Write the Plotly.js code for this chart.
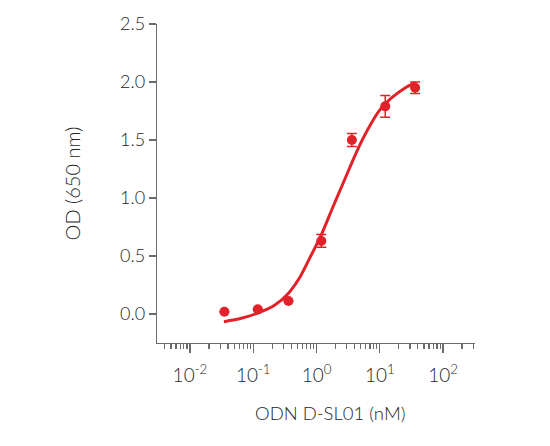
<!DOCTYPE html>
<html>
<head>
<meta charset="utf-8">
<script src="https://cdn.plot.ly/plotly-3.0.1.min.js"></script>
<style>
  html, body { margin: 0; padding: 0; background: white; }
  #chart { width: 550px; height: 446px; }
</style>
</head>
<body>
<div id="chart"></div>
<script>
// Measured points (concentration in nM, OD at 650 nm, error)
const concentrations = [0.035, 0.118, 0.36, 1.19, 3.62, 12.2, 36.2];
const odValues = [0.02, 0.04, 0.112, 0.63, 1.50, 1.79, 1.95];
const odErrors = [0, 0, 0, 0.055, 0.056, 0.093, 0.05];

// Fitted curve
const curveX = [0.0344, 0.0646, 0.118, 0.217, 0.355, 0.537, 0.794, 1.186, 1.811, 2.767, 4.236, 6.457, 9.886, 15.14, 26.12, 36.31];
const curveY = [-0.066, -0.037, 0.008, 0.075, 0.175, 0.31, 0.49, 0.68, 0.92, 1.155, 1.39, 1.59, 1.755, 1.86, 1.955, 1.995];

// Tick labels
const xTickVals = [0.01, 0.1, 1, 10, 100];
const xTickText = ['10<sup>-2</sup>', '10<sup>-1</sup>', '10<sup>0</sup>', '10<sup>1</sup>', '10<sup>2</sup>'];

const red = '#e2222a';
const axisColor = '#6b6b6b';
const textColor = '#262626';
const family = 'Lato, "Open Sans", sans-serif';

const fitTrace = {
    x: curveX,
    y: curveY,
    mode: 'lines',
    type: 'scatter',
    line: { color: red, width: 3, shape: 'spline', smoothing: 0.8 },
    hoverinfo: 'skip'
};

const pointTrace = {
    x: concentrations,
    y: odValues,
    mode: 'markers',
    type: 'scatter',
    marker: { color: red, size: 10 },
    error_y: {
        type: 'data',
        array: odErrors,
        visible: true,
        color: red,
        thickness: 1.5,
        width: 5
    }
};

const layout = {
    width: 550,
    height: 446,
    showlegend: false,
    margin: { l: 157, r: 75, t: 24, b: 103 },
    plot_bgcolor: 'white',
    paper_bgcolor: 'white',
    font: { family: family, size: 17, color: textColor, weight: 300 },
    xaxis: {
        type: 'log',
        range: [-2.521, 2.505],
        tickvals: xTickVals,
        ticktext: xTickText,
        showgrid: false,
        zeroline: false,
        showline: true,
        linecolor: axisColor,
        linewidth: 1.3,
        ticks: 'outside',
        ticklen: 9,
        tickwidth: 1.3,
        tickcolor: axisColor,
        ticklabelstandoff: 6,
        tickfont: { family: family, size: 19, color: textColor, weight: 300 },
        minor: { ticks: 'outside', dtick: 'D1', ticklen: 5, tickwidth: 1.2, tickcolor: axisColor }
    },
    yaxis: {
        range: [-0.25, 2.5],
        dtick: 0.5,
        tick0: 0,
        tickformat: '.1f',
        showgrid: false,
        zeroline: false,
        showline: true,
        linecolor: axisColor,
        linewidth: 1.3,
        ticks: 'outside',
        ticklen: 7,
        tickwidth: 1.3,
        tickcolor: axisColor,
        tickfont: { family: family, size: 18, color: textColor, weight: 300 },
        title: {
            text: 'OD (650 nm)',
            font: { family: family, size: 20, color: textColor, weight: 300 },
            standoff: 34
        }
    },
    // x-axis title sits right of the plot centre in the reference
    annotations: [{
        text: 'ODN D-SL01 (nM)',
        xref: 'paper', yref: 'paper',
        x: 0.544, y: -0.219,
        xanchor: 'center', yanchor: 'middle',
        showarrow: false,
        font: { family: family, size: 18.5, color: textColor, weight: 300 }
    }]
};

Plotly.newPlot('chart', [fitTrace, pointTrace], layout, { displayModeBar: false, staticPlot: true });
</script>
</body>
</html>
